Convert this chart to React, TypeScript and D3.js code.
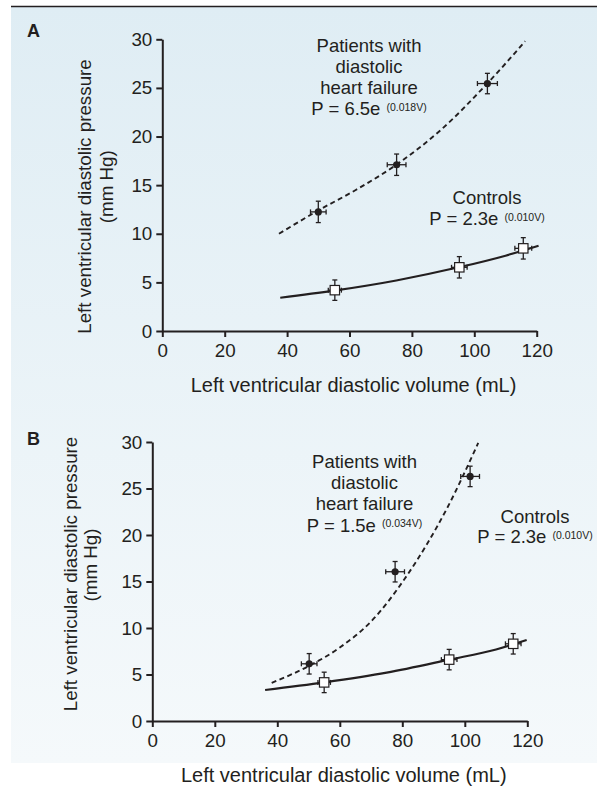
import { useEffect, useRef } from "react";
import * as d3 from "d3";

const volumeTicks = [0, 20, 40, 60, 80, 100, 120];
const pressureTicks = [0, 5, 10, 15, 20, 25, 30];

// Panel A
const aPatientV = [50, 75.1, 104.2];
const aPatientP = [12.25, 17.1, 25.45];
const aPatientErrV = [2.5, 3, 3.2];
const aPatientErrP = [1.1, 1.1, 1.05];
const aPatientFitV = [37.4, 50, 62, 75, 89, 104, 116.3];
const aPatientFitP = [10.0, 12.4, 14.5, 17.1, 20.6, 25.4, 29.8];
const aControlV = [55.3, 95.2, 115.7];
const aControlP = [4.2, 6.55, 8.5];
const aControlErrV = [2.1, 2.5, 2.7];
const aControlErrP = [1.05, 1.1, 1.1];
const aControlFitV = [37.8, 55, 75, 95, 110, 120.6];
const aControlFitP = [3.42, 4.15, 5.2, 6.55, 7.75, 8.77];
const aPatientLabel = ["Patients with", "diastolic", "heart failure"];
const aPatientEq = ["P = 6.5e", "(0.018V)"];
const aControlEq = ["P = 2.3e", "(0.010V)"];

// Panel B
const bPatientV = [50.2, 77.7, 101.7];
const bPatientP = [6.15, 16.05, 26.3];
const bPatientErrV = [2.5, 3, 3];
const bPatientErrP = [1.1, 1.1, 1.1];
const bPatientFitV = [38.2, 50, 60, 70, 81.4, 94.2, 104.3];
const bPatientFitP = [4.1, 5.9, 7.9, 10.7, 15.6, 22.8, 29.9];
const bControlV = [55, 95, 115.5];
const bControlP = [4.15, 6.6, 8.3];
const bControlErrV = [2, 2.5, 2.5];
const bControlErrP = [1.1, 1.1, 1.1];
const bControlFitV = [36.1, 55, 75, 95, 110, 119.8];
const bControlFitP = [3.33, 4.15, 5.2, 6.6, 7.7, 8.7];
const bPatientLabel = ["Patients with", "diastolic", "heart failure"];
const bPatientEq = ["P = 1.5e", "(0.034V)"];
const bControlEq = ["P = 2.3e", "(0.010V)"];

const xTitle = "Left ventricular diastolic volume (mL)";
const yTitle = ["Left ventricular diastolic pressure", "(mm Hg)"];

const INK = "#231f20";
const FONT = "'Liberation Sans', Arial, Helvetica, sans-serif";

type Series = { v: number[]; p: number[]; ev: number[]; ep: number[]; fv: number[]; fp: number[] };

type Panel = {
  letter: string;
  letterY: number;
  xRange: [number, number];
  yRange: [number, number];
  yTitleX: [number, number];
  yTitleY: [number, number];
  patient: Series;
  control: Series;
  patientText: { x: number; ys: number[]; lines: string[]; eq: string[] };
  controlText: { x: number; ys: number[]; eq: string[] };
};

const panels: Panel[] = [
  {
    letter: "A",
    letterY: 37,
    xRange: [162.3, 536.7],
    yRange: [331, 39.3],
    yTitleX: [90.5, 112.8],
    yTitleY: [196.5, 186.7],
    patient: { v: aPatientV, p: aPatientP, ev: aPatientErrV, ep: aPatientErrP, fv: aPatientFitV, fp: aPatientFitP },
    control: { v: aControlV, p: aControlP, ev: aControlErrV, ep: aControlErrP, fv: aControlFitV, fp: aControlFitP },
    patientText: { x: 369, ys: [52.3, 73.3, 94.3, 115], lines: aPatientLabel, eq: aPatientEq },
    controlText: { x: 487, ys: [203.5, 225], eq: aControlEq },
  },
  {
    letter: "B",
    letterY: 445,
    xRange: [152.3, 527.3],
    yRange: [721, 442],
    yTitleX: [76.5, 96.5],
    yTitleY: [574, 565],
    patient: { v: bPatientV, p: bPatientP, ev: bPatientErrV, ep: bPatientErrP, fv: bPatientFitV, fp: bPatientFitP },
    control: { v: bControlV, p: bControlP, ev: bControlErrV, ep: bControlErrP, fv: bControlFitV, fp: bControlFitP },
    patientText: { x: 364.5, ys: [467.8, 488.8, 510, 531.7], lines: bPatientLabel, eq: bPatientEq },
    controlText: { x: 535, ys: [522.7, 543.3], eq: bControlEq },
  },
];

export default function App() {
  const ref = useRef<SVGSVGElement>(null);

  useEffect(() => {
    if (!ref.current) return;
    const svg = d3.select(ref.current);
    svg.selectAll("*").remove();

    // background gradient
    const grad = svg
      .append("defs")
      .append("linearGradient")
      .attr("id", "bg")
      .attr("x1", 0)
      .attr("y1", 0)
      .attr("x2", 0)
      .attr("y2", 1);
    grad.append("stop").attr("offset", "0%").attr("stop-color", "#dfedf4");
    grad.append("stop").attr("offset", "100%").attr("stop-color", "#f5f9fb");

    svg
      .append("rect")
      .attr("x", 11)
      .attr("y", 7)
      .attr("width", 586)
      .attr("height", 756)
      .attr("fill", "url(#bg)");

    svg
      .append("line")
      .attr("x1", 11)
      .attr("x2", 597)
      .attr("y1", 6.5)
      .attr("y2", 6.5)
      .attr("stroke", INK)
      .attr("stroke-width", 1.6);

    panels.forEach((pn) => {
      const g = svg.append("g").attr("font-family", FONT).attr("fill", INK);
      const x = d3.scaleLinear().domain([0, 120]).range(pn.xRange);
      const y = d3.scaleLinear().domain([0, 30]).range(pn.yRange);

      // axes
      const xAxis = g
        .append("g")
        .attr("transform", `translate(0,${pn.yRange[0]})`)
        .call(d3.axisBottom(x).tickValues(volumeTicks).tickSize(6).tickSizeOuter(0).tickPadding(7));
      const yAxis = g
        .append("g")
        .attr("transform", `translate(${pn.xRange[0]},0)`)
        .call(d3.axisLeft(y).tickValues(pressureTicks).tickSize(6).tickSizeOuter(0).tickPadding(4));
      [xAxis, yAxis].forEach((ax) => {
        ax.attr("font-family", FONT).attr("font-size", 18.8);
        ax.select(".domain").attr("stroke", INK).attr("stroke-width", 2);
        ax.selectAll(".tick line").attr("stroke", INK).attr("stroke-width", 2);
        ax.selectAll(".tick text").attr("fill", INK);
      });

      // titles
      g.append("text")
        .attr("x", (pn.xRange[0] + pn.xRange[1]) / 2 + 4)
        .attr("y", pn.yRange[0] + 60.7)
        .attr("text-anchor", "middle")
        .attr("font-size", 20)
        .text(xTitle);
      yTitle.forEach((t, i) => {
        g.append("text")
          .attr("transform", `translate(${pn.yTitleX[i]},${pn.yTitleY[i]}) rotate(-90)`)
          .attr("text-anchor", "middle")
          .attr("font-size", 18.8)
          .text(t);
      });
      g.append("text")
        .attr("x", 27)
        .attr("y", pn.letterY)
        .attr("font-size", 18)
        .attr("font-weight", "bold")
        .text(pn.letter);

      // fitted curves
      const drawFit = (s: Series, dashed: boolean) => {
        const pts = s.fv.map((v, i) => [x(v), y(s.fp[i])] as [number, number]);
        g.append("path")
          .attr("d", d3.line().curve(d3.curveMonotoneX)(pts))
          .attr("fill", "none")
          .attr("stroke", INK)
          .attr("stroke-width", dashed ? 1.9 : 2.1)
          .attr("stroke-dasharray", dashed ? "5,3.5" : null);
      };
      drawFit(pn.patient, true);
      drawFit(pn.control, false);

      // error bars
      const drawErr = (s: Series) => {
        s.v.forEach((v, i) => {
          const cx = x(v);
          const cy = y(s.p[i]);
          const x0 = x(v - s.ev[i]);
          const x1 = x(v + s.ev[i]);
          const y0 = y(s.p[i] - s.ep[i]);
          const y1 = y(s.p[i] + s.ep[i]);
          const eg = g.append("g").attr("stroke", INK).attr("stroke-width", 1.3);
          eg.append("line").attr("x1", x0).attr("x2", x1).attr("y1", cy).attr("y2", cy);
          eg.append("line").attr("x1", cx).attr("x2", cx).attr("y1", y0).attr("y2", y1);
          eg.append("line").attr("x1", x0).attr("x2", x0).attr("y1", cy - 2.5).attr("y2", cy + 2.5);
          eg.append("line").attr("x1", x1).attr("x2", x1).attr("y1", cy - 2.5).attr("y2", cy + 2.5);
          eg.append("line").attr("x1", cx - 2.5).attr("x2", cx + 2.5).attr("y1", y0).attr("y2", y0);
          eg.append("line").attr("x1", cx - 2.5).attr("x2", cx + 2.5).attr("y1", y1).attr("y2", y1);
        });
      };
      drawErr(pn.patient);
      drawErr(pn.control);

      // markers
      pn.patient.v.forEach((v, i) => {
        g.append("circle").attr("cx", x(v)).attr("cy", y(pn.patient.p[i])).attr("r", 3.6).attr("fill", INK);
      });
      pn.control.v.forEach((v, i) => {
        g.append("rect")
          .attr("x", x(v) - 4.7)
          .attr("y", y(pn.control.p[i]) - 4.7)
          .attr("width", 9.4)
          .attr("height", 9.4)
          .attr("fill", "#fff")
          .attr("stroke", INK)
          .attr("stroke-width", 1.2);
      });

      // annotations
      const eqText = (cx: number, by: number, eq: string[]) => {
        const t = g.append("text").attr("x", cx).attr("y", by).attr("text-anchor", "middle").attr("font-size", 18.5);
        t.append("tspan").text(eq[0]);
        t.append("tspan").attr("dx", 6).attr("dy", -4.5).attr("font-size", 10.5).text(eq[1]);
      };
      pn.patientText.lines.forEach((l, i) => {
        g.append("text")
          .attr("x", pn.patientText.x)
          .attr("y", pn.patientText.ys[i])
          .attr("text-anchor", "middle")
          .attr("font-size", 18.5)
          .text(l);
      });
      eqText(pn.patientText.x, pn.patientText.ys[3], pn.patientText.eq);
      g.append("text")
        .attr("x", pn.controlText.x)
        .attr("y", pn.controlText.ys[0])
        .attr("text-anchor", "middle")
        .attr("font-size", 18.5)
        .text("Controls");
      eqText(pn.controlText.x, pn.controlText.ys[1], pn.controlText.eq);
    });
  }, []);

  return (
    <svg
      ref={ref}
      width={597}
      height={797}
      style={{ position: "absolute", left: 0, top: 0, background: "#fff" }}
    />
  );
}
